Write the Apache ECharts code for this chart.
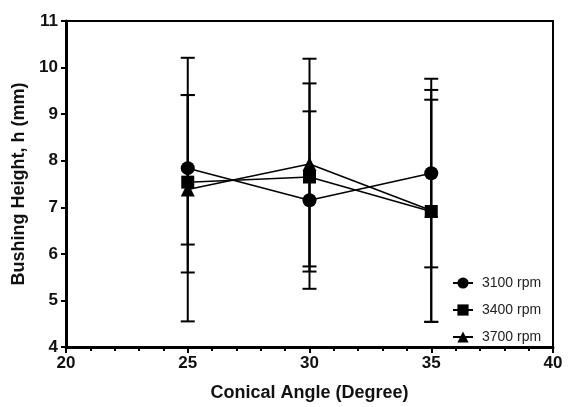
<!DOCTYPE html>
<html>
<head>
<meta charset="utf-8">
<script src="https://cdn.jsdelivr.net/npm/echarts@6/dist/echarts.min.js"></script>
<style>
  html, body { margin: 0; padding: 0; background: #fff; }
  #chart { width: 569px; height: 407px; }
</style>
</head>
<body>
<div id="chart"></div>
<script>
// conical angle (degree)
const angles = [25, 30, 35];
const seriesNames = ['3100 rpm', '3400 rpm', '3700 rpm'];
const symbols = ['circle', 'rect', 'triangle'];

// bushing height means (mm)
const h3100 = [7.84, 7.15, 7.73];
const h3400 = [7.54, 7.65, 6.91];
const h3700 = [7.38, 7.93, 6.93];

// error bar ends
const low3100 = [6.2, 5.25, 5.71];
const high3100 = [9.41, 9.06, 9.76];
const low3400 = [5.6, 5.62, 4.54];
const high3400 = [9.41, 9.66, 9.31];
const low3700 = [4.55, 5.73, 4.54];
const high3700 = [10.21, 10.19, 9.52];

const means = [h3100, h3400, h3700];
const lows = [low3100, low3400, low3700];
const highs = [high3100, high3400, high3700];

const font = '"Liberation Sans", Arial, sans-serif';

let series = [];
means.forEach(function (m, i) {
  // error bars
  series.push({
    type: 'custom',
    silent: true,
    z: 1,
    data: angles.map(function (a, j) { return [a, lows[i][j], highs[i][j]]; }),
    renderItem: function (params, api) {
      const lo = api.coord([api.value(0), api.value(1)]);
      const hi = api.coord([api.value(0), api.value(2)]);
      const w = 7;
      const st = { stroke: '#000', lineWidth: 2 };
      return {
        type: 'group',
        children: [
          { type: 'line', shape: { x1: lo[0], y1: lo[1], x2: hi[0], y2: hi[1] }, style: st },
          { type: 'line', shape: { x1: lo[0] - w, y1: lo[1], x2: lo[0] + w, y2: lo[1] }, style: st },
          { type: 'line', shape: { x1: hi[0] - w, y1: hi[1], x2: hi[0] + w, y2: hi[1] }, style: st }
        ]
      };
    }
  });
  series.push({
    name: seriesNames[i],
    type: 'line',
    z: 5 - i, // first series drawn on top
    data: angles.map(function (a, j) { return [a, m[j]]; }),
    symbol: symbols[i],
    symbolSize: i === 1 ? 13 : 14,
    showSymbol: true,
    itemStyle: { color: '#000' },
    lineStyle: { color: '#000', width: 1.5 }
  });
});

let option = {
  animation: false,
  backgroundColor: '#fff',
  grid: {
    left: 66, right: 16, top: 21, bottom: 56,
    show: true, borderColor: '#000', borderWidth: 2
  },
  legend: {
    orient: 'vertical',
    left: 447,
    top: 271,
    itemWidth: 20,
    itemHeight: 14,
    itemGap: 13,
    data: seriesNames,
    textStyle: { fontFamily: font, fontSize: 14, color: '#222', padding: [0, 0, 0, 4] }
  },
  xAxis: {
    type: 'value',
    min: 20, max: 40, interval: 5,
    name: 'Conical Angle (Degree)',
    nameLocation: 'middle',
    nameGap: 37,
    nameTextStyle: { fontFamily: font, fontSize: 18, fontWeight: 'bold', color: '#111' },
    axisLine: { lineStyle: { color: '#000', width: 3 } },
    axisTick: { length: 6, lineStyle: { color: '#000', width: 2 } },
    minorTick: { show: true, splitNumber: 5, length: 4, lineStyle: { color: '#000', width: 2 } },
    splitLine: { show: false },
    axisLabel: { margin: 8, fontFamily: font, fontSize: 17, fontWeight: 'bold', color: '#111' }
  },
  yAxis: {
    type: 'value',
    min: 4, max: 11, interval: 1,
    name: 'Bushing Height, h (mm)',
    nameLocation: 'middle',
    nameGap: 34,
    nameTextStyle: { fontFamily: font, fontSize: 18, fontWeight: 'bold', color: '#111' },
    axisLine: { show: true, lineStyle: { color: '#000', width: 3 } },
    axisTick: { show: true, length: 5, lineStyle: { color: '#000', width: 2 } },
    splitLine: { show: false },
    axisLabel: { margin: 8, fontFamily: font, fontSize: 17, fontWeight: 'bold', color: '#111' }
  },
  series: series
};

let chart = echarts.init(document.getElementById('chart'));
chart.setOption(option);
</script>
</body>
</html>
